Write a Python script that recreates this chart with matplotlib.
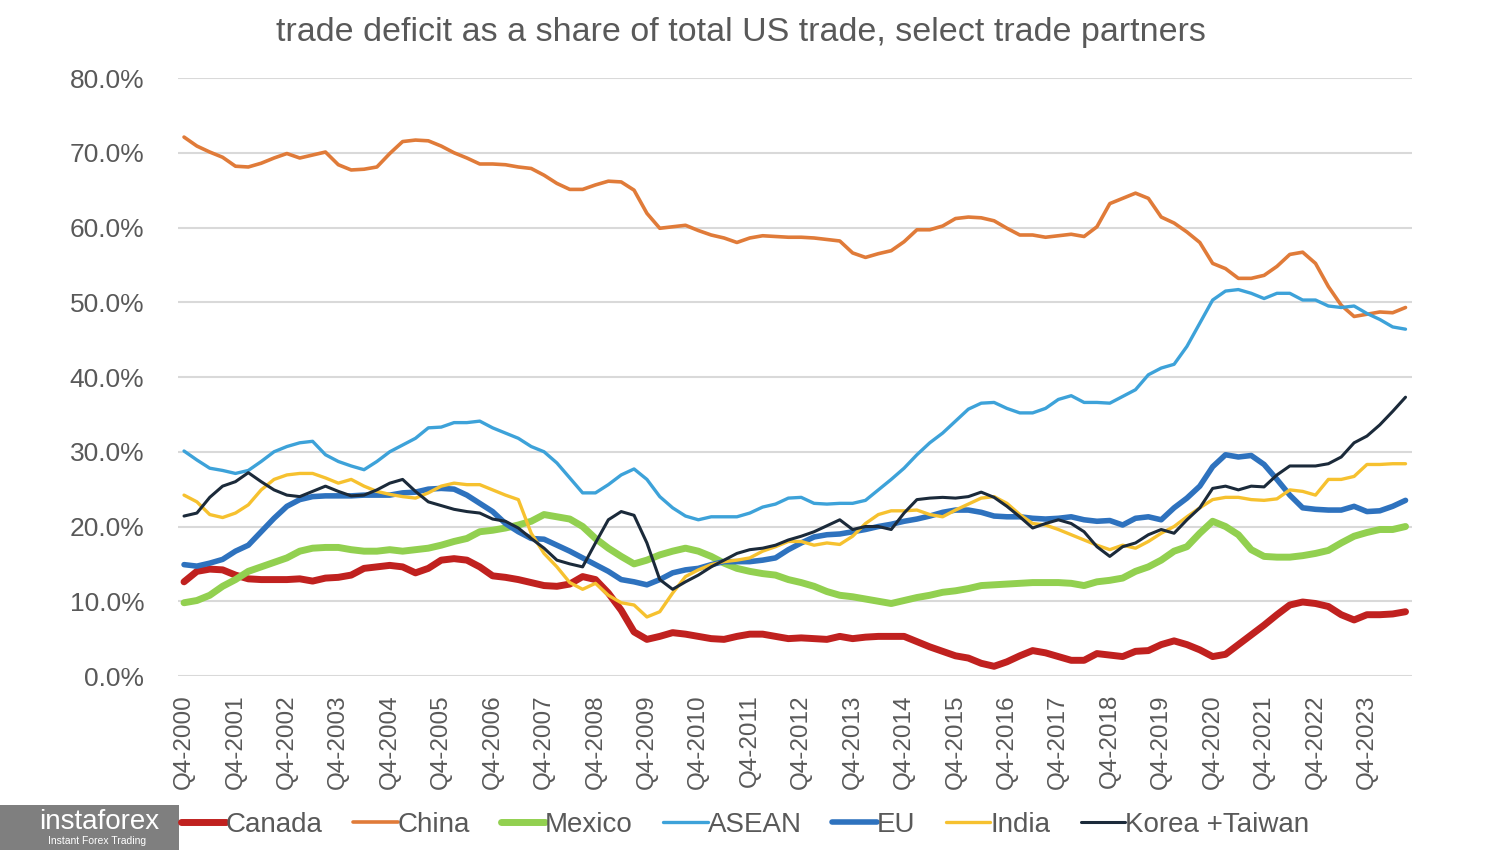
import matplotlib.pyplot as plt
from matplotlib.patches import Rectangle
from matplotlib.ticker import FuncFormatter

# quarters Q4-2000 .. Q3-2024
quarters = []
for year in range(2000, 2025):
    for q in [1, 2, 3, 4]:
        if (year == 2000 and q < 4) or (year == 2024 and q > 3):
            continue
        quarters.append("Q%d-%d" % (q, year))

canada = [12.6, 14.0, 14.3, 14.2, 13.5, 13.0, 12.9, 12.9, 12.9, 13.0, 12.7, 13.1,
          13.2, 13.5, 14.4, 14.6, 14.8, 14.6, 13.8, 14.4, 15.5, 15.7, 15.5, 14.6,
          13.4, 13.2, 12.9, 12.5, 12.1, 12.0, 12.3, 13.3, 12.9, 11.1, 8.8, 5.9,
          4.9, 5.3, 5.8, 5.6, 5.3, 5.0, 4.9, 5.3, 5.6, 5.6, 5.3, 5.0,
          5.1, 5.0, 4.9, 5.3, 5.0, 5.2, 5.3, 5.3, 5.3, 4.6, 3.9, 3.3,
          2.7, 2.4, 1.7, 1.3, 1.9, 2.7, 3.4, 3.1, 2.6, 2.1, 2.1, 3.0,
          2.8, 2.6, 3.3, 3.4, 4.2, 4.7, 4.2, 3.5, 2.6, 2.9, 4.2, 5.5,
          6.8, 8.2, 9.5, 9.9, 9.7, 9.3, 8.2, 7.5, 8.2, 8.2, 8.3, 8.6]

china = [72.1, 70.9, 70.1, 69.4, 68.2, 68.1, 68.6, 69.3, 69.9, 69.3, 69.7, 70.1,
         68.4, 67.7, 67.8, 68.1, 69.9, 71.5, 71.7, 71.6, 70.9, 70.0, 69.3, 68.5,
         68.5, 68.4, 68.1, 67.9, 67.0, 65.9, 65.1, 65.1, 65.7, 66.2, 66.1, 65.0,
         61.9, 59.9, 60.1, 60.3, 59.6, 59.0, 58.6, 58.0, 58.6, 58.9, 58.8, 58.7,
         58.7, 58.6, 58.4, 58.2, 56.6, 56.0, 56.5, 56.9, 58.1, 59.7, 59.7, 60.2,
         61.2, 61.4, 61.3, 60.9, 59.9, 59.0, 59.0, 58.7, 58.9, 59.1, 58.8, 60.1,
         63.2, 63.9, 64.6, 63.9, 61.4, 60.6, 59.4, 58.0, 55.2, 54.5, 53.2, 53.2,
         53.6, 54.8, 56.4, 56.7, 55.2, 52.1, 49.6, 48.1, 48.4, 48.7, 48.6, 49.3]

mexico = [9.8, 10.1, 10.8, 12.0, 12.9, 14.0, 14.6, 15.2, 15.8, 16.7, 17.1, 17.2,
          17.2, 16.9, 16.7, 16.7, 16.9, 16.7, 16.9, 17.1, 17.5, 18.0, 18.4, 19.3,
          19.5, 19.8, 20.2, 20.7, 21.6, 21.3, 21.0, 20.0, 18.4, 17.1, 16.0, 15.0,
          15.5, 16.2, 16.7, 17.1, 16.7, 16.0, 15.1, 14.4, 14.0, 13.7, 13.5, 12.9,
          12.5, 12.0, 11.3, 10.8, 10.6, 10.3, 10.0, 9.7, 10.1, 10.5, 10.8, 11.2,
          11.4, 11.7, 12.1, 12.2, 12.3, 12.4, 12.5, 12.5, 12.5, 12.4, 12.1, 12.6,
          12.8, 13.1, 14.0, 14.6, 15.5, 16.7, 17.3, 19.1, 20.7, 20.0, 18.9, 16.9,
          16.0, 15.9, 15.9, 16.1, 16.4, 16.8, 17.8, 18.7, 19.2, 19.6, 19.6, 20.0]

asean = [30.1, 28.9, 27.8, 27.5, 27.1, 27.5, 28.7, 30.0, 30.7, 31.2, 31.4, 29.6,
         28.7, 28.1, 27.6, 28.7, 30.0, 30.9, 31.8, 33.2, 33.3, 33.9, 33.9, 34.1,
         33.2, 32.5, 31.8, 30.7, 30.0, 28.5, 26.5, 24.5, 24.5, 25.6, 26.9, 27.7,
         26.3, 24.0, 22.5, 21.4, 20.9, 21.3, 21.3, 21.3, 21.8, 22.6, 23.0, 23.8,
         23.9, 23.1, 23.0, 23.1, 23.1, 23.5, 24.9, 26.3, 27.8, 29.6, 31.2, 32.5,
         34.1, 35.7, 36.5, 36.6, 35.8, 35.2, 35.2, 35.8, 37.0, 37.5, 36.6, 36.6,
         36.5, 37.4, 38.3, 40.3, 41.2, 41.7, 44.1, 47.2, 50.3, 51.5, 51.7, 51.2,
         50.5, 51.2, 51.2, 50.3, 50.3, 49.5, 49.3, 49.5, 48.5, 47.7, 46.7, 46.4]

eu = [14.9, 14.7, 15.1, 15.6, 16.7, 17.5, 19.3, 21.1, 22.7, 23.6, 24.0, 24.1,
      24.1, 24.1, 24.2, 24.2, 24.2, 24.5, 24.6, 25.0, 25.1, 25.0, 24.2, 23.1,
      22.0, 20.4, 19.3, 18.4, 18.3, 17.5, 16.7, 15.8, 14.9, 14.0, 12.9, 12.6,
      12.2, 12.9, 13.8, 14.2, 14.4, 14.9, 15.3, 15.3, 15.3, 15.5, 15.8, 16.9,
      17.8, 18.6, 18.9, 19.0, 19.3, 19.6, 20.0, 20.3, 20.7, 21.0, 21.4, 21.9,
      22.2, 22.2, 21.9, 21.4, 21.3, 21.3, 21.1, 21.0, 21.1, 21.3, 20.9, 20.7,
      20.8, 20.2, 21.1, 21.3, 20.9, 22.5, 23.8, 25.4, 28.0, 29.6, 29.3, 29.5,
      28.3, 26.3, 24.2, 22.5, 22.3, 22.2, 22.2, 22.7, 22.0, 22.1, 22.7, 23.5]

india = [24.2, 23.3, 21.6, 21.2, 21.8, 22.9, 24.9, 26.3, 26.9, 27.1, 27.1, 26.5,
         25.8, 26.3, 25.4, 24.7, 24.3, 24.0, 23.8, 24.5, 25.4, 25.8, 25.6, 25.6,
         24.9, 24.2, 23.6, 19.1, 16.4, 14.6, 12.5, 11.6, 12.4, 10.8, 9.8, 9.5,
         7.9, 8.6, 11.1, 13.3, 14.2, 14.9, 15.3, 15.5, 15.8, 16.7, 17.3, 18.0,
         18.0, 17.5, 17.8, 17.6, 18.7, 20.4, 21.6, 22.1, 22.1, 22.2, 21.6, 21.3,
         22.2, 23.0, 23.8, 24.0, 23.1, 21.6, 20.4, 20.2, 19.6, 18.9, 18.2, 17.5,
         16.9, 17.5, 17.1, 18.0, 19.1, 20.0, 21.3, 22.5, 23.6, 23.9, 23.9, 23.6,
         23.5, 23.7, 24.9, 24.7, 24.2, 26.3, 26.3, 26.7, 28.3, 28.3, 28.4, 28.4]

korea_taiwan = [21.4, 21.8, 23.9, 25.4, 26.0, 27.2, 26.0, 24.9, 24.2, 24.0, 24.7, 25.4,
                24.7, 24.1, 24.2, 24.9, 25.8, 26.3, 24.7, 23.3, 22.8, 22.3, 22.0, 21.8,
                21.0, 20.7, 19.8, 18.4, 17.1, 15.5, 15.0, 14.6, 17.8, 20.9, 22.0, 21.5,
                17.8, 12.9, 11.6, 12.6, 13.5, 14.6, 15.5, 16.4, 16.9, 17.1, 17.5, 18.2,
                18.7, 19.3, 20.1, 20.9, 19.6, 20.0, 20.0, 19.6, 21.8, 23.6, 23.8, 23.9,
                23.8, 24.0, 24.6, 23.9, 22.7, 21.3, 19.8, 20.4, 20.9, 20.4, 19.3, 17.3,
                16.0, 17.3, 17.8, 18.9, 19.6, 19.1, 20.9, 22.5, 25.1, 25.4, 24.9, 25.4,
                25.3, 26.9, 28.1, 28.1, 28.1, 28.4, 29.3, 31.2, 32.1, 33.6, 35.4, 37.3]

series_names = ["Canada", "China", "Mexico", "ASEAN", "EU", "India", "Korea +Taiwan"]
series_values = [canada, china, mexico, asean, eu, india, korea_taiwan]
colors = ["#C0211F", "#E07B39", "#92D050", "#3DA2D9", "#2E72BE", "#F6C12F", "#1B2A3A"]
widths = [5.0, 2.6, 5.0, 2.4, 4.0, 2.4, 2.2]

text_grey = "#595959"
plt.rcParams['font.family'] = ['Liberation Sans', 'DejaVu Sans']

fig = plt.figure(figsize=(15, 8.5), dpi=100)
ax = fig.add_axes([0.1184, 0.2047, 0.8229, 0.7035])

x = list(range(len(quarters)))
for name, vals, c, w in zip(series_names, series_values, colors, widths):
    ax.plot(x, vals, color=c, linewidth=w, label=name, solid_capstyle='round',
            solid_joinstyle='round')

ax.set_ylim(0, 80)
ax.set_yticks([0, 10, 20, 30, 40, 50, 60, 70, 80])
ax.yaxis.set_major_formatter(FuncFormatter(lambda v, p: "%.1f%%" % v))
ax.set_xlim(-0.5, len(quarters) - 0.5)
tick_pos = [i for i, q in enumerate(quarters) if q.startswith("Q4")]
ax.set_xticks(tick_pos)
ax.set_xticklabels([quarters[i] for i in tick_pos], rotation=90)

ax.grid(axis='y', color="#D9D9D9", linewidth=1.5)
ax.set_axisbelow(True)
for s in ax.spines.values():
    s.set_visible(False)
ax.tick_params(axis='both', length=0, colors=text_grey)
ax.tick_params(axis='y', pad=24, labelsize=19)
ax.tick_params(axis='x', pad=13, labelsize=17.5)

fig.text(0.494, 0.962, "trade deficit as a share of total US trade, select trade partners",
         ha='center', va='center', fontsize=24.5, color=text_grey)

fig.legend(loc='center', bbox_to_anchor=(0.497, 0.03), ncol=7, frameon=False,
           fontsize=20, labelcolor=text_grey, handlelength=1.6, handletextpad=0.0,
           columnspacing=1.1)

# watermark box in the lower left corner
fig.patches.append(Rectangle((0, 0), 0.119, 0.053, transform=fig.transFigure,
                             facecolor="#7F7F7F", edgecolor='none', zorder=5))
fig.text(0.026, 0.033, "instaforex", color='white', fontsize=20, va='center', zorder=6)
fig.text(0.032, 0.010, "Instant Forex Trading", color='white', fontsize=7.5, va='center', zorder=6)

fig.savefig("out.png", dpi=100, facecolor='white')
